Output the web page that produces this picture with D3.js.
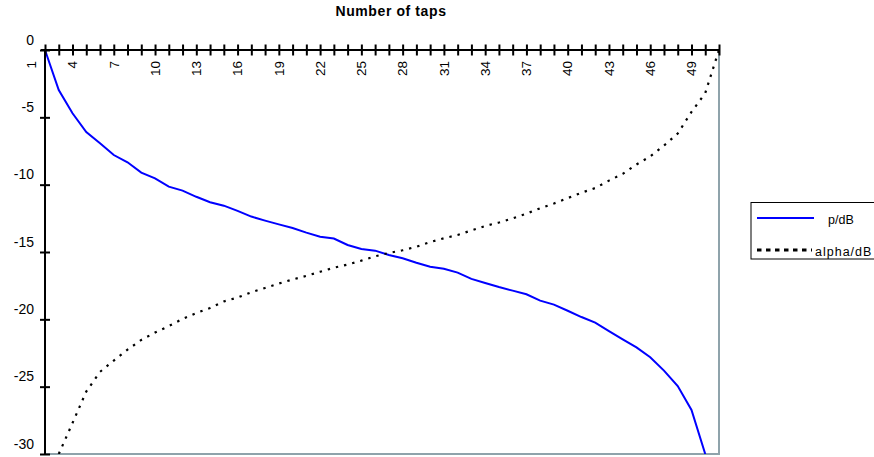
<!DOCTYPE html>
<html>
<head>
<meta charset="utf-8">
<script src="https://cdn.jsdelivr.net/npm/d3@7"></script>
<style>
  html, body { margin: 0; padding: 0; background: #fff; }
  svg { display: block; font-family: "Liberation Sans", Arial, sans-serif; }
</style>
</head>
<body>
<svg id="chart" width="874" height="457"></svg>
<script>
// Number of taps along the top axis
const taps = [2, 3, 4, 5, 6, 7, 8, 9, 10, 11, 12, 13, 14, 15, 16, 17, 18, 19, 20, 21,
  22, 23, 24, 25, 26, 27, 28, 29, 30, 31, 32, 33, 34, 35, 36, 37, 38, 39, 40, 41,
  42, 43, 44, 45, 46, 47, 48, 49, 50, 51];
const tapLabels = [1, 4, 7, 10, 13, 16, 19, 22, 25, 28, 31, 34, 37, 40, 43, 46, 49];
const dbTicks = [0, -5, -10, -15, -20, -25, -30];

// p in dB
const pdB = [0, -2.97, -4.7, -6.1, -6.93, -7.8, -8.34, -9.1, -9.53, -10.15,
  -10.44, -10.9, -11.3, -11.56, -11.95, -12.37, -12.67, -12.95, -13.22, -13.56,
  -13.87, -14.0, -14.48, -14.78, -14.9, -15.22, -15.47, -15.8, -16.09, -16.24,
  -16.53, -17.0, -17.3, -17.6, -17.87, -18.14, -18.61, -18.91, -19.36, -19.83,
  -20.25, -20.87, -21.49, -22.08, -22.82, -23.81, -24.95, -26.73, -30, null];

// alpha in dB
const alphadB = [null, -30, -27.7, -25.36, -23.9, -23.06, -22.25, -21.53, -20.98, -20.5,
  -19.97, -19.53, -19.16, -18.67, -18.38, -17.99, -17.67, -17.34, -17.04, -16.77,
  -16.47, -16.17, -15.93, -15.64, -15.32, -15.07, -14.87, -14.61, -14.26, -13.98,
  -13.74, -13.4, -13.07, -12.81, -12.5, -12.15, -11.75, -11.4, -11.0, -10.6,
  -10.25, -9.7, -9.2, -8.5, -7.9, -7.1, -6.2, -4.6, -3.2, 0];

const svg = d3.select("#chart");
const plotLeft = 45, plotRight = 719, plotTop = 50, plotBottom = 454;

const x = d3.scaleLinear().domain([taps[0], taps[taps.length - 1]]).range([plotLeft, plotRight]);
const y = d3.scaleLinear().domain([0, -30]).range([plotTop, plotBottom]);

svg.append("rect").attr("width", 874).attr("height", 457).attr("fill", "#fff");

// title
svg.append("text")
  .attr("x", 391).attr("y", 16)
  .attr("text-anchor", "middle")
  .attr("font-size", 14).attr("font-weight", "bold")
  .attr("letter-spacing", 0.6)
  .text("Number of taps");

// plot frame (right and bottom)
svg.append("path")
  .attr("d", `M${plotRight},${plotTop}V${plotBottom}H${plotLeft}`)
  .attr("fill", "none").attr("stroke", "#8fa3ab").attr("stroke-width", 2);

// clipping for the series
svg.append("clipPath").attr("id", "plotclip")
  .append("rect").attr("x", plotLeft).attr("y", plotTop - 2)
  .attr("width", plotRight - plotLeft + 2).attr("height", plotBottom - plotTop + 2);

const line = d3.line()
  .defined(d => d[1] !== null)
  .x(d => x(d[0])).y(d => y(d[1]));

const g = svg.append("g").attr("clip-path", "url(#plotclip)");
g.append("path")
  .datum(taps.map((t, i) => [t, pdB[i]]))
  .attr("d", line)
  .attr("fill", "none").attr("stroke", "#0000ff").attr("stroke-width", 2);
g.append("path")
  .datum(taps.map((t, i) => [t, alphadB[i]]))
  .attr("d", line)
  .attr("fill", "none").attr("stroke", "#000").attr("stroke-width", 2.2)
  .attr("stroke-dasharray", "2.4,6");

// y axis
const yAxis = d3.axisLeft(y).tickValues(dbTicks).tickSize(0).tickFormat(d => String(d));
const yg = svg.append("g").attr("transform", `translate(${plotLeft},0)`).call(yAxis);
yg.select(".domain").remove();
yg.selectAll(".tick text")
  .attr("x", -11).attr("dy", "-0.42em")
  .attr("font-size", 14).attr("font-family", "Liberation Sans, Arial, sans-serif")
  .attr("fill", "#000");
yg.selectAll(".tick").append("line")
  .attr("x1", -5).attr("x2", 5).attr("stroke", "#000").attr("stroke-width", 2);
svg.append("line")
  .attr("x1", plotLeft).attr("x2", plotLeft).attr("y1", plotTop).attr("y2", plotBottom + 1)
  .attr("stroke", "#000").attr("stroke-width", 2);

// x axis at the top (value 0)
const xAxis = d3.axisTop(x).tickValues(taps).tickSize(0).tickFormat("");
const xg = svg.append("g").attr("transform", `translate(0,${plotTop})`).call(xAxis);
xg.select(".domain").remove();
xg.selectAll(".tick").append("line")
  .attr("y1", -5.5).attr("y2", 5.5).attr("stroke", "#000").attr("stroke-width", 2);
svg.append("line")
  .attr("x1", plotLeft - 4).attr("x2", plotRight + 1).attr("y1", plotTop).attr("y2", plotTop)
  .attr("stroke", "#000").attr("stroke-width", 2);

svg.append("g").selectAll("text")
  .data(tapLabels)
  .join("text")
  .attr("transform", d => `translate(${x(d)},61) rotate(-90)`)
  .attr("text-anchor", "end")
  .attr("dy", "0.35em")
  .attr("font-size", 13.5)
  .text(d => d);

// legend
const lg = svg.append("g");
lg.append("rect")
  .attr("x", 751).attr("y", 202.5).attr("width", 140).attr("height", 56.5)
  .attr("fill", "#fff").attr("stroke", "#000").attr("stroke-width", 1);
lg.append("line").attr("x1", 757).attr("x2", 814).attr("y1", 218).attr("y2", 218)
  .attr("stroke", "#0000ff").attr("stroke-width", 2);
lg.append("line").attr("x1", 757).attr("x2", 812).attr("y1", 250).attr("y2", 250)
  .attr("stroke", "#000").attr("stroke-width", 3).attr("stroke-dasharray", "4.5,4.5");
lg.append("text").attr("x", 828).attr("y", 224).attr("font-size", 12.5).text("p/dB");
lg.append("text").attr("x", 815).attr("y", 256).attr("font-size", 12.5)
  .attr("letter-spacing", 1).text("alpha/dB");
</script>
</body>
</html>
